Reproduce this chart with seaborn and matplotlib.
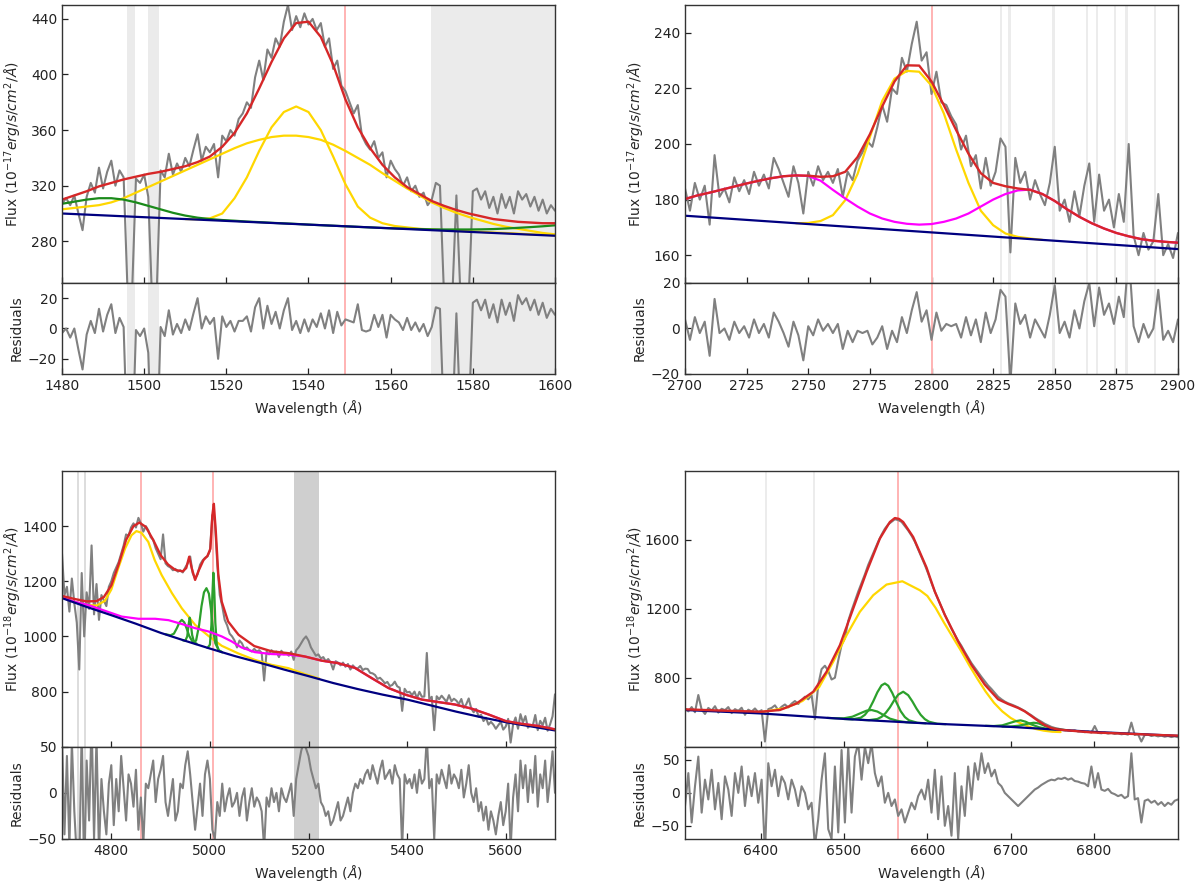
import numpy as np
import matplotlib
matplotlib.use("Agg")
import matplotlib.pyplot as plt
import seaborn as sns

# ------------------------------------------------------------------ DATA
# ---- Panel 1 : CIV region (1 A spectrum grid, 3 A model grid)
civ_start, civ_step = 1480, 1
civ_flux = [307, 311, 306, 313, 300, 288, 312, 322, 315, 333,
            318, 330, 338, 320, 331, 326, 240, 238, 325, 322,
            328, 312, 232, 238, 331, 326, 343, 328, 336, 330,
            340, 334, 346, 357, 338, 348, 344, 350, 326, 356,
            352, 360, 356, 368, 372, 380, 376, 398, 410, 396,
            418, 412, 426, 420, 438, 450, 432, 442, 434, 444,
            436, 440, 432, 437, 420, 426, 404, 410, 392, 388,
            380, 372, 378, 356, 350, 346, 352, 340, 344, 326,
            338, 332, 328, 320, 326, 316, 320, 312, 315, 306,
            310, 322, 320, 240, 235, 240, 313, 240, 235, 240,
            316, 318, 310, 316, 304, 312, 300, 314, 304, 312,
            300, 316, 310, 314, 305, 312, 302, 310, 300, 306,
            302]
civ_resid = [-3, 0, -6, 0, -14, -27, -4, 5, -3, 13,
             -2, 9, 16, -3, 7, 1, -85, -88, -1, -5,
             0, -16, -97, -92, 1, -5, 12, -4, 3, -3,
             6, -1, 10, 20, 0, 8, 3, 7, -20, 8,
             1, 5, -2, 5, 5, 8, -2, 14, 20, 0,
             15, 3, 11, 0, 12, 20, -1, 5, -3, 6,
             -2, 6, 1, 10, 0, 12, -3, 11, 2, 6,
             5, 4, 16, -1, -2, -1, 9, 1, 9, -6,
             9, 6, 4, -1, 7, -1, 4, -2, 3, -5,
             1, 14, 13, -65, -70, -63, 10, -61, -66, -60,
             17, 19, 12, 19, 7, 16, 4, 19, 9, 17,
             5, 22, 16, 20, 12, 19, 9, 17, 7, 13,
             9]
civ_model_start, civ_model_step = 1480, 3
civ_total = [310, 313, 316, 319.5, 322, 324.5, 326.5, 328.5, 330, 332,
             334, 337, 341, 348, 358, 372, 390, 409, 426, 437,
             438, 427, 407, 382, 362, 347, 335, 326, 319, 314,
             309, 305.5, 302.5, 300, 298, 296, 295, 294, 293.5, 293, 293]
civ_broad = [303, 304, 305, 306, 308, 311, 315, 319, 323, 327,
             331, 335, 339, 343, 347, 350.5, 353, 355, 356, 356,
             355, 353, 349.5, 345, 340, 335, 329, 323.5, 318, 313,
             308, 304, 300.5, 297.5, 295, 292.5, 290.5, 289, 287.5, 286, 285]
civ_green = [307, 308.5, 310, 311, 311, 310, 308, 305.5, 303, 300.5,
             298.5, 297, 296, 295.3, 294.8, 294.2, 293.8, 293.3, 292.9, 292.5,
             292, 291.6, 291.2, 290.8, 290.4, 290, 289.6, 289.3, 289, 288.8,
             288.6, 288.5, 288.5, 288.5, 288.6, 288.8, 289.2, 289.7, 290.2, 290.8, 291.5]
civ_narrow_start = 1510
civ_narrow = [296, 295.8, 296.5, 300, 311, 326, 345, 362, 373, 377,
              373, 360, 341, 321, 305, 297, 293, 291, 290, 289,
              288.5, 288, 287.5, 287.2, 286.8, 286.3, 286, 285.5, 285, 284.7, 284.3]
civ_cont_wl = [1480, 1600]
civ_cont = [300, 284]
civ_masks = [(1495.8, 1497.8), (1501.0, 1503.7), (1569.8, 1600.0)]
civ_line = 1549

# ---- Panel 2 : MgII region (2 A spectrum grid, 5 A model grid)
mg_start, mg_step = 2700, 2
mg_flux = [184, 176, 186, 180, 185, 171, 196, 181, 184, 179,
           188, 183, 187, 182, 190, 185, 189, 184, 195, 191,
           186, 181, 192, 186, 175, 190, 185, 192, 187, 190,
           186, 191, 181, 190, 187, 194, 197, 201, 199, 206,
           214, 208, 220, 218, 231, 226, 236, 244, 230, 233,
           218, 226, 215, 214, 210, 207, 198, 203, 192, 196,
           184, 195, 185, 190, 202, 199, 161, 195, 186, 190,
           180, 187, 182, 178, 186, 199, 176, 180, 172, 183,
           174, 185, 193, 172, 189, 176, 180, 170, 182, 172,
           200, 167, 160, 168, 162, 165, 182, 160, 164, 159,
           168]
mg_resid = [4, -5, 5, -2, 3, -12, 13, -2, 0, -5,
            3, -2, 1, -4, 4, -2, 2, -4, 7, 3,
            -2, -8, 3, -3, -14, 1, -3, 4, -1, 2,
            -2, 2, -9, -1, -6, -1, -2, -1, -7, -4,
            1, -9, -1, -6, 5, -2, 8, 16, 3, 8,
            -5, 7, -1, 2, 1, 2, -4, 5, -3, 4,
            -6, 7, -2, 4, 17, 14, -24, 11, 2, 6,
            -4, 4, 0, -4, 6, 19, -2, 3, -4, 8,
            0, 12, 20, 1, 18, 6, 11, 2, 14, 5,
            33, 1, -6, 2, -4, 0, 17, -5, -1, -6,
            4]
mg_model_start, mg_model_step = 2700, 5
mg_total = [180.2, 181.5, 182.5, 183.6, 184.7, 185.8, 186.8, 187.7, 188.4, 188.7,
            188.6, 188.2, 188.4, 190.0, 195.3, 203.5, 213.5, 222.5, 228.3, 228.2,
            222.5, 214.0, 205.0, 196.5, 189.5, 186.0, 184.8, 184.0, 183.5, 182.0,
            179.5, 176.5, 173.8, 171.5, 169.6, 168.0, 166.8, 165.8, 165.2, 164.8, 164.5]
mg_fe = [180.2, 181.5, 182.5, 183.6, 184.7, 185.8, 186.8, 187.7, 188.4, 188.7,
         188.5, 186.8, 183.5, 180.4, 177.5, 175.0, 173.2, 172.0, 171.3, 171.0,
         171.2, 172.0, 173.2, 175.0, 177.5, 180.0, 182.0, 183.3, 183.6, 182.0,
         179.5, 176.5, 173.8, 171.5, 169.6, 168.0, 166.8, 165.8, 165.2, 164.8, 164.5]
mg_broad_start = 2745
mg_broad = [171.5, 171.6, 172.3, 174.4, 179.8, 189.2, 202.5, 215.5, 223.5, 226.3,
            226.0, 221.0, 211.0, 198.0, 186.0, 176.0, 170.8, 167.8, 166.6, 166.0, 165.5]
mg_cont_wl = [2700, 2900]
mg_cont = [174.2, 162.2]
mg_masks = [2828.2, 2831.6, 2849.5, 2863.0, 2867.1, 2874.4, 2879.2, 2890.7]
mg_line = 2800

# ---- Panel 3 : Hbeta region (5 A spectrum grid)
hb_start, hb_step = 4700, 5
hb_flux = [1300, 1150, 1180, 1090, 1210, 1120, 1050, 880, 1230, 1000,
           1160, 1100, 1330, 1080, 1190, 1060, 1150, 1130, 1110, 1180,
           1200, 1230, 1250, 1270, 1300, 1330, 1370, 1365, 1395, 1410,
           1395, 1430, 1410, 1380, 1400, 1385, 1360, 1350, 1320, 1300,
           1280, 1370, 1265, 1255, 1250, 1240, 1245, 1235, 1240, 1232,
           1250, 1265, 1290, 1230, 1210, 1225, 1260, 1275, 1285, 1290,
           1310, 1440, 1420, 1260, 1150, 1110, 1060, 1040, 1010, 1000,
           985, 960, 985, 975, 955, 960, 950, 945, 955, 945,
           950, 940, 840, 945, 935, 950, 940, 945, 925, 948,
           935, 940, 930, 945, 915, 950, 960, 975, 990, 1000,
           985, 960, 945, 930, 935, 920, 925, 910, 918, 905,
           880, 910, 905, 895, 905, 890, 900, 880, 895, 885,
           884, 893, 878, 883, 882, 868, 866, 860, 846, 850,
           841, 830, 835, 820, 824, 836, 819, 814, 730, 810,
           797, 799, 787, 800, 776, 799, 781, 782, 940, 772,
           781, 660, 783, 772, 785, 774, 763, 787, 765, 774,
           767, 755, 773, 741, 754, 775, 739, 725, 737, 709,
           716, 693, 705, 680, 690, 680, 665, 678, 690, 662,
           673, 701, 615, 681, 706, 665, 718, 687, 711, 669,
           679, 677, 715, 660, 694, 678, 705, 658, 681, 710,
           790]
hb_resid = [60, -45, 40, -60, 55, -20, -70, -80, 70, -90,
            35, -30, 80, -50, 60, -65, 15, -20, -45, 10,
            30, -35, 15, -20, 40, 5, -30, 20, 10, -15,
            25, -40, -5, -55, 10, 5, 20, 35, -10, 15,
            25, 40, -10, -25, -5, 15, -30, -20, 10, 5,
            30, 45, 20, -10, -40, -15, 10, -25, 20, 35,
            15, -40, -50, -10, -25, 10, -20, -5, 5, -15,
            -10, 0, -25, -5, 5, -30, -10, 5, -15, -5,
            -10, -20, -60, -5, -15, 5, -10, 0, -20, 5,
            -5, -10, 0, 10, -25, 15, 30, 45, 55, 48,
            40, 25, 15, 5, 10, -10, -15, -25, -20, -35,
            -30, -20, -10, -30, -25, -15, -5, -20, 0, 10,
            5, 15, 10, 20, 25, 15, 30, 20, 10, 25,
            35, 15, 20, 25, 10, 30, 20, 15, -60, 20,
            10, 15, 5, 20, 0, 25, 10, 15, 60, 5,
            15, -50, 20, 10, 25, 15, 5, 30, 10, 20,
            15, 5, 25, -5, 10, 30, 0, -10, 5, -20,
            -10, -30, -15, -40, -20, -30, -45, -25, -10, -35,
            -20, 10, -60, -5, 20, -20, 35, 5, 30, -10,
            25, 0, 40, -15, 20, 5, 35, -10, 15, 45,
            0]
hb_total_wl = [4700, 4725, 4750, 4770, 4785, 4800, 4815, 4830, 4845, 4857,
               4870, 4885, 4900, 4915, 4930, 4945, 4952, 4958, 4963, 4970,
               4977, 4987, 4995, 5001, 5005, 5008, 5012, 5017, 5024, 5037,
               5058, 5090, 5125, 5160, 5193, 5227, 5260, 5294, 5328, 5362,
               5396, 5430, 5463, 5497, 5531, 5565, 5600, 5632, 5666, 5700]
hb_total = [1147, 1136, 1127, 1128, 1143, 1185, 1262, 1350, 1400, 1413,
            1397, 1350, 1295, 1261, 1241, 1236, 1248, 1289, 1248, 1205,
            1238, 1277, 1292, 1318, 1440, 1481, 1380, 1225, 1126, 1054,
            1006, 965, 946, 939, 927, 912, 903, 886, 849, 813,
            789, 771, 762, 753, 738, 717, 693, 683, 675, 663]
hb_broad_wl = [4700, 4725, 4750, 4770, 4787, 4800, 4814, 4828, 4841, 4851,
               4861, 4875, 4888, 4902, 4923, 4943, 4970, 4997, 5024, 5058,
               5091, 5125, 5159, 5193, 5222]
hb_broad = [1141, 1125, 1114, 1112, 1129, 1170, 1247, 1319, 1367, 1382,
            1376, 1343, 1277, 1223, 1157, 1102, 1042, 1002, 966, 938,
            915, 897, 885, 863, 847]
hb_fe_wl = [4700, 4725, 4753, 4787, 4821, 4855, 4889, 4916, 4943, 4970,
            4997, 5024, 5044, 5064, 5091, 5125, 5159, 5193, 5227, 5260,
            5294, 5328, 5362, 5396, 5430, 5463, 5497, 5531, 5565, 5600,
            5632, 5666, 5700]
hb_fe = [1141, 1126, 1114, 1093, 1072, 1064, 1064, 1059, 1045, 1030,
         1018, 1000, 982, 960, 943, 936, 934, 927, 912, 903,
         886, 849, 813, 789, 771, 762, 753, 738, 717, 693,
         683, 675, 663]
hb_cont_wl = [4700, 4750, 4800, 4850, 4900, 4950, 5000, 5050, 5100, 5150,
              5200, 5250, 5300, 5350, 5400, 5450, 5500, 5550, 5600, 5650, 5700]
hb_cont = [1139, 1107, 1077, 1046, 1013, 984, 956, 929, 905, 880,
           856, 831, 809, 789, 771, 749, 727, 707, 689, 674, 659]
hb_o3a_wl = [4910, 4920, 4927, 4933, 4938, 4943, 4948, 4953, 4958, 4964, 4972]
hb_o3a = [1008, 1004, 1010, 1030, 1050, 1060, 1051, 1028, 1002, 983, 972]
hb_o3b_wl = [4945, 4950, 4954, 4957, 4959, 4961, 4964, 4968, 4973]
hb_o3b = [986, 984, 1000, 1045, 1068, 1050, 1005, 978, 974]
hb_o3c_wl = [4965, 4972, 4978, 4983, 4988, 4993, 4998, 5002, 5006, 5011, 5018, 5025]
hb_o3c = [977, 985, 1040, 1110, 1160, 1175, 1155, 1100, 1030, 975, 950, 942]
hb_o3d_wl = [4995, 5000, 5003, 5005, 5007, 5009, 5011, 5014, 5018, 5024]
hb_o3d = [958, 970, 1040, 1150, 1231, 1160, 1050, 970, 948, 944]
hb_masks = [(4730.5, 4733.5), (4745.2, 4748.2)]
hb_mask_dark = (5171, 5222)
hb_lines = [4861, 5007]

# ---- Panel 4 : Halpha region (4 A spectrum grid)
ha_start, ha_step = 6309, 4
ha_flux = [620, 605, 630, 600, 700, 615, 590, 625, 610, 635,
           598, 620, 612, 630, 595, 618, 608, 626, 585, 615,
           604, 622, 600, 612, 430, 618, 625, 640, 612, 632,
           645, 628, 650, 665, 648, 670, 690, 675, 700, 560,
           760, 850, 870, 840, 790, 800, 900, 990, 1030, 1130,
           1190, 1245, 1300, 1350, 1400, 1455, 1500, 1545, 1590, 1630,
           1665, 1690, 1705, 1720, 1715, 1705, 1680, 1655, 1625, 1590,
           1545, 1500, 1455, 1405, 1350, 1300, 1255, 1210, 1165, 1125,
           1085, 1050, 1015, 985, 950, 918, 885, 858, 830, 805,
           780, 755, 735, 712, 690, 675, 662, 652, 645, 637,
           628, 618, 607, 594, 582, 568, 556, 545, 533, 524,
           515, 509, 505, 500, 498, 495, 492, 495, 488, 490,
           484, 488, 482, 520, 480, 478, 482, 476, 480, 474,
           478, 472, 475, 470, 540, 468, 472, 430, 468, 470,
           462, 466, 460, 464, 458, 462, 456, 460, 455]
ha_resid = [-20, 30, -45, 10, 55, -30, 20, -10, 35, -25,
            15, -40, 25, 5, -35, 30, 0, 40, -20, 25,
            -5, 30, -15, 20, -90, 45, 10, 35, -5, 25,
            15, -10, 20, 5, -20, 10, 0, -25, -15, -80,
            -40, 20, 60, -55, -70, 40, -60, 65, -45, 70,
            -30, 55, 75, 20, 70, 45, 75, 30, 10, 25,
            -15, 0, -20, -10, -35, -25, -45, -30, -15, -25,
            -5, 5, -10, 20, -30, 35, -40, 25, -50, -20,
            -65, 30, -70, 10, -35, 40, -10, 45, 20, 60,
            30, 45, 25, 35, 15, 10, 0, -5, -10, -15,
            -20, -15, -10, -5, 0, 5, 8, 12, 15, 18,
            20, 19, 22, 21, 23, 20, 22, 18, 17, 15,
            14, 10, 40, 8, 30, 5, 3, 6, 0, -2,
            -5, -3, -8, -5, 60, -10, -8, -45, -12, -10,
            -15, -12, -18, -14, -20, -15, -18, -12, -10]
ha_total_wl = [6309, 6350, 6400, 6423, 6443, 6463, 6479, 6495, 6511, 6527,
               6543, 6555, 6561, 6566, 6571, 6583, 6599, 6609, 6621, 6637,
               6653, 6669, 6685, 6697, 6709, 6717, 6725, 6733, 6741, 6749,
               6757, 6765, 6797, 6837, 6877, 6901]
ha_total = [617, 610, 603, 613, 651, 719, 835, 989, 1202, 1414,
            1608, 1704, 1727, 1722, 1704, 1617, 1440, 1300, 1165, 1010,
            875, 760, 675, 648, 625, 605, 578, 550, 525, 508,
            500, 496, 483, 476, 468, 464]
ha_broad_wl = [6400, 6430, 6450, 6470, 6487, 6503, 6519, 6535, 6551, 6570,
               6591, 6600, 6610, 6620, 6630, 6640, 6650, 6660, 6670, 6680,
               6690, 6700, 6710, 6720, 6730, 6740, 6750, 6760]
ha_broad = [600, 625, 665, 745, 893, 1047, 1183, 1279, 1341, 1360,
            1308, 1275, 1205, 1120, 1040, 960, 875, 795, 720, 655,
            605, 567, 540, 520, 503, 493, 487, 485]
ha_cont_wl = [6309, 6400, 6500, 6600, 6700, 6800, 6901]
ha_cont = [613, 593, 561, 535, 515, 486, 463]
ha_n1_wl = [6500, 6510, 6520, 6525, 6530, 6535, 6540, 6545, 6549, 6553,
            6558, 6563, 6568, 6573, 6578, 6588, 6598]
ha_n1 = [561, 559, 568, 585, 616, 663, 716, 756, 767, 754,
         711, 656, 606, 572, 553, 539, 536]
ha_n2_wl = [6520, 6530, 6540, 6545, 6550, 6555, 6560, 6565, 6571, 6577,
            6582, 6587, 6592, 6597, 6602, 6612, 6622]
ha_n2 = [556, 554, 561, 573, 596, 628, 668, 702, 719, 699,
         663, 621, 585, 560, 545, 533, 531]
ha_n3_wl = [6480, 6490, 6500, 6510, 6520, 6527, 6533, 6540, 6547, 6555, 6565, 6575, 6585]
ha_n3 = [567, 565, 565, 574, 595, 609, 613, 604, 585, 563, 549, 542, 540]
ha_s1_wl = [6670, 6680, 6690, 6700, 6706, 6712, 6718, 6724, 6734, 6744, 6754]
ha_s1 = [521, 520, 524, 539, 548, 553, 545, 531, 513, 503, 499]
ha_s2_wl = [6690, 6700, 6710, 6716, 6722, 6728, 6734, 6740, 6746, 6756, 6766]
ha_s2 = [517, 517, 522, 528, 535, 539, 535, 523, 511, 500, 496]
ha_masks = [6406.4, 6464.0]
ha_line = 6564.6

# ------------------------------------------------------------------ STYLE
sns.set_theme(style="white", rc={
    "xtick.direction": "in", "ytick.direction": "in",
    "xtick.bottom": True, "ytick.left": True,
    "axes.edgecolor": "#333333", "axes.linewidth": 1.0,
})
plt.rcParams["font.family"] = ["DejaVu Sans"]
plt.rcParams["mathtext.fontset"] = "dejavusans"

C_DATA = "#808080"
C_TOT = "#d62728"
C_BROAD = "#ffd700"
C_GREEN1 = "#1a8a1a"
C_GREEN = "#2ca02c"
C_FE = "#ff00ff"
C_CONT = "#000080"
C_LINE = "#ffb3b3"
FS = 10


def grid(start, step, vals):
    return start + step * np.arange(len(vals))


def line(ax, x, y, color, lw=1.6):
    sns.lineplot(x=np.asarray(x, float), y=np.asarray(y, float), ax=ax,
                 color=color, linewidth=lw, estimator=None, sort=False,
                 legend=False)


fig = plt.figure(figsize=(12, 8.85), dpi=100)
W = 493 / 1200
xl, xr = 62 / 1200, 685 / 1200
top_main = [1 - 283 / 885, 278 / 885]
top_res = [1 - 374 / 885, 91 / 885]
bot_main = [1 - 746.7 / 885, 275.7 / 885]
bot_res = [1 - 839 / 885, 92.3 / 885]


def make_pair(x0, main_rc, res_rc):
    axm = fig.add_axes([x0, main_rc[0], W, main_rc[1]])
    axr = fig.add_axes([x0, res_rc[0], W, res_rc[1]], sharex=axm)
    return axm, axr


def finish(axm, axr, xlim, ylim, yticks, rlim, rticks, xticks, unit):
    axm.set_xlim(*xlim)
    axm.set_ylim(*ylim)
    axm.set_yticks(yticks)
    axm.set_xticks(xticks)
    axr.set_ylim(*rlim)
    axr.set_yticks(rticks)
    axm.tick_params(labelbottom=False, labelsize=FS, length=4, width=0.9,
                    colors="#222222")
    axr.tick_params(labelsize=FS, length=4, width=0.9, colors="#222222")
    axm.set_ylabel(r"Flux ($10^{%s}erg/s/cm^{2}/\AA$)" % unit, fontsize=FS)
    axr.set_ylabel("Residuals", fontsize=FS)
    axr.set_xlabel(r"Wavelength ($\AA$)", fontsize=FS)
    axm.yaxis.set_label_coords(-0.078, 0.5)
    axr.yaxis.set_label_coords(-0.078, 0.5)
    axm.set_xlabel("")
    for a in (axm, axr):
        for s in a.spines.values():
            s.set_color("#333333")
            s.set_linewidth(1.0)


# ---------------- Panel 1
a1, r1 = make_pair(xl, top_main, top_res)
for lo, hi in civ_masks:
    for a in (a1, r1):
        a.axvspan(lo, hi, color="#ebebeb", lw=0, zorder=0)
for a in (a1, r1):
    a.axvline(civ_line, color=C_LINE, lw=1.4, zorder=1)
line(a1, grid(civ_start, civ_step, civ_flux), civ_flux, C_DATA, 1.5)
mg1 = grid(civ_model_start, civ_model_step, civ_total)
line(a1, mg1, civ_broad, C_BROAD)
line(a1, grid(civ_narrow_start, civ_model_step, civ_narrow), civ_narrow, C_BROAD)
line(a1, mg1, civ_green, C_GREEN1)
line(a1, civ_cont_wl, civ_cont, C_CONT)
line(a1, mg1, civ_total, C_TOT, 1.7)
line(r1, grid(civ_start, civ_step, civ_resid), civ_resid, C_DATA, 1.5)
finish(a1, r1, (1480, 1600), (250, 450), [280, 320, 360, 400, 440],
       (-30, 30), [-20, 0, 20], np.arange(1480, 1601, 20), "-17")

# ---------------- Panel 2
a2, r2 = make_pair(xr, top_main, top_res)
for c in mg_masks:
    for a in (a2, r2):
        a.axvspan(c - 0.5, c + 0.5, color="#ececec", lw=0, zorder=0)
for a in (a2, r2):
    a.axvline(mg_line, color=C_LINE, lw=1.4, zorder=1)
line(a2, grid(mg_start, mg_step, mg_flux), mg_flux, C_DATA, 1.5)
mg2 = grid(mg_model_start, mg_model_step, mg_total)
line(a2, grid(mg_broad_start, mg_model_step, mg_broad), mg_broad, C_BROAD)
line(a2, mg2, mg_fe, C_FE)
line(a2, mg_cont_wl, mg_cont, C_CONT)
line(a2, mg2, mg_total, C_TOT, 1.7)
line(r2, grid(mg_start, mg_step, mg_resid), mg_resid, C_DATA, 1.5)
finish(a2, r2, (2700, 2900), (150, 250), [160, 180, 200, 220, 240],
       (-20, 20), [-20, 0, 20], np.arange(2700, 2901, 25), "-17")

# ---------------- Panel 3
a3, r3 = make_pair(xl, bot_main, bot_res)
for lo, hi in hb_masks:
    for a in (a3, r3):
        a.axvspan(lo, hi, color="#dddddd", lw=0, zorder=0)
for a in (a3, r3):
    a.axvspan(*hb_mask_dark, color="#cfcfcf", lw=0, zorder=0)
    for lw_ in hb_lines:
        a.axvline(lw_, color=C_LINE, lw=1.4, zorder=1)
line(a3, grid(hb_start, hb_step, hb_flux), hb_flux, C_DATA, 1.5)
line(a3, hb_broad_wl, hb_broad, C_BROAD)
for xw, yw in ((hb_o3a_wl, hb_o3a), (hb_o3b_wl, hb_o3b),
               (hb_o3c_wl, hb_o3c), (hb_o3d_wl, hb_o3d)):
    line(a3, xw, yw, C_GREEN)
line(a3, hb_fe_wl, hb_fe, C_FE)
line(a3, hb_cont_wl, hb_cont, C_CONT)
line(a3, hb_total_wl, hb_total, C_TOT, 1.7)
line(r3, grid(hb_start, hb_step, hb_resid), hb_resid, C_DATA, 1.5)
finish(a3, r3, (4700, 5700), (600, 1600), [800, 1000, 1200, 1400],
       (-50, 50), [-50, 0, 50], np.arange(4800, 5601, 200), "-18")

# ---------------- Panel 4
a4, r4 = make_pair(xr, bot_main, bot_res)
for c in ha_masks:
    for a in (a4, r4):
        a.axvspan(c - 1.0, c + 1.0, color="#ececec", lw=0, zorder=0)
for a in (a4, r4):
    a.axvline(ha_line, color=C_LINE, lw=1.4, zorder=1)
line(a4, grid(ha_start, ha_step, ha_flux), ha_flux, C_DATA, 1.5)
line(a4, ha_broad_wl, ha_broad, C_BROAD)
for xw, yw in ((ha_n1_wl, ha_n1), (ha_n2_wl, ha_n2), (ha_n3_wl, ha_n3),
               (ha_s1_wl, ha_s1), (ha_s2_wl, ha_s2)):
    line(a4, xw, yw, C_GREEN)
line(a4, ha_cont_wl, ha_cont, C_CONT)
line(a4, ha_total_wl, ha_total, C_TOT, 1.7)
line(r4, grid(ha_start, ha_step, ha_resid), ha_resid, C_DATA, 1.5)
finish(a4, r4, (6309, 6901), (400, 2000), [800, 1200, 1600],
       (-70, 70), [-50, 0, 50], np.arange(6400, 6801, 100), "-18")

fig.savefig("out.png", dpi=100)
